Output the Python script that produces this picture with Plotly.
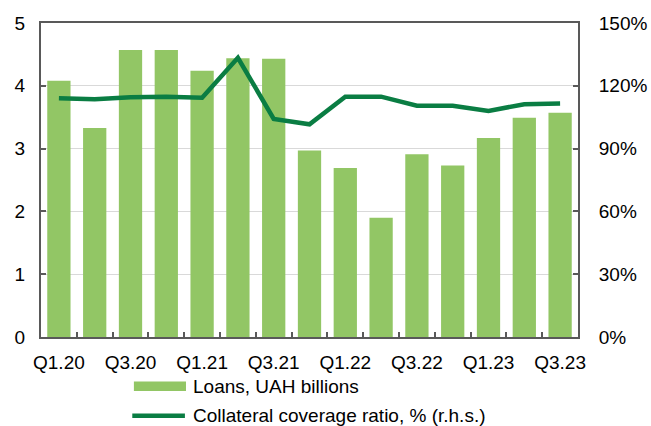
import plotly.graph_objects as go

# Quarterly data
quarters = ["Q1.20", "Q2.20", "Q3.20", "Q4.20", "Q1.21", "Q2.21", "Q3.21", "Q4.21",
            "Q1.22", "Q2.22", "Q3.22", "Q4.22", "Q1.23", "Q2.23", "Q3.23"]
loans_uah_bn = [4.08, 3.33, 4.57, 4.57, 4.24, 4.44, 4.43, 2.97,
                2.69, 1.90, 2.91, 2.73, 3.17, 3.49, 3.57]
coverage_pct = [114.0, 113.6, 114.5, 114.8, 114.3, 133.4, 104.2, 101.6,
                114.8, 114.8, 110.5, 110.5, 108.0, 111.2, 111.5]
x_tick_text = [q if i % 2 == 0 else "" for i, q in enumerate(quarters)]
left_ticks = [0, 1, 2, 3, 4, 5]
right_ticks = [0, 30, 60, 90, 120, 150]

BAR = "#92C665"
LINE = "#0A7D43"
AXIS = "#595959"
GRID = "#D9D9D9"
FONT = dict(family="Liberation Sans, Arial, sans-serif", size=19, color="#000000")

fig = go.Figure()
fig.add_trace(go.Bar(x=quarters, y=loans_uah_bn, name="Loans, UAH billions",
                     marker=dict(color=BAR, line=dict(width=0)), showlegend=False))
fig.add_trace(go.Scatter(x=quarters, y=coverage_pct, yaxis="y2", mode="lines",
                         name="Collateral coverage ratio, % (r.h.s.)",
                         line=dict(color=LINE, width=4.5), showlegend=False))

fig.update_layout(
    width=651, height=426,
    margin=dict(l=41, r=73, t=23, b=89),
    paper_bgcolor="white", plot_bgcolor="white",
    font=FONT,
    bargap=0.35,
    xaxis=dict(
        type="category", tickmode="array", tickvals=quarters, ticktext=x_tick_text,
        tickson="boundaries", ticks="inside", ticklen=5, tickwidth=1.5, tickcolor=AXIS,
        showline=True, linecolor=AXIS, linewidth=2, mirror=True,
        showgrid=False, tickangle=0, ticklabelstandoff=7, automargin=False,
    ),
    yaxis=dict(
        range=[0, 5], tickvals=left_ticks, ticks="inside", ticklen=5, tickwidth=1.5,
        tickcolor=AXIS, showline=True, linecolor=AXIS, linewidth=2,
        showgrid=True, gridcolor=GRID, gridwidth=1, zeroline=False,
        ticklabelstandoff=10, automargin=False,
    ),
    yaxis2=dict(
        range=[0, 150], tickvals=right_ticks, ticktext=[f"{v}%" for v in right_ticks],
        overlaying="y", side="right", ticks="inside", ticklen=5, tickwidth=1.5,
        tickcolor=AXIS, showline=True, linecolor=AXIS, linewidth=2,
        showgrid=False, zeroline=False, ticklabelstandoff=15, automargin=False,
    ),
)

# Legend drawn below the plot area
fig.add_shape(type="rect", xref="paper", yref="paper",
              x0=0.173, x1=0.270, y0=-0.172, y1=-0.142,
              fillcolor=BAR, line=dict(width=0))
fig.add_shape(type="line", xref="paper", yref="paper",
              x0=0.170, x1=0.268, y0=-0.251, y1=-0.251,
              line=dict(color=LINE, width=4.5))
fig.add_annotation(text="Loans, UAH billions", xref="paper", yref="paper",
                   x=0.279, y=-0.157, xanchor="left", yanchor="middle",
                   showarrow=False, font=FONT)
fig.add_annotation(text="Collateral coverage ratio, % (r.h.s.)", xref="paper", yref="paper",
                   x=0.279, y=-0.251, xanchor="left", yanchor="middle",
                   showarrow=False, font=FONT)

fig.write_html("out.html")
